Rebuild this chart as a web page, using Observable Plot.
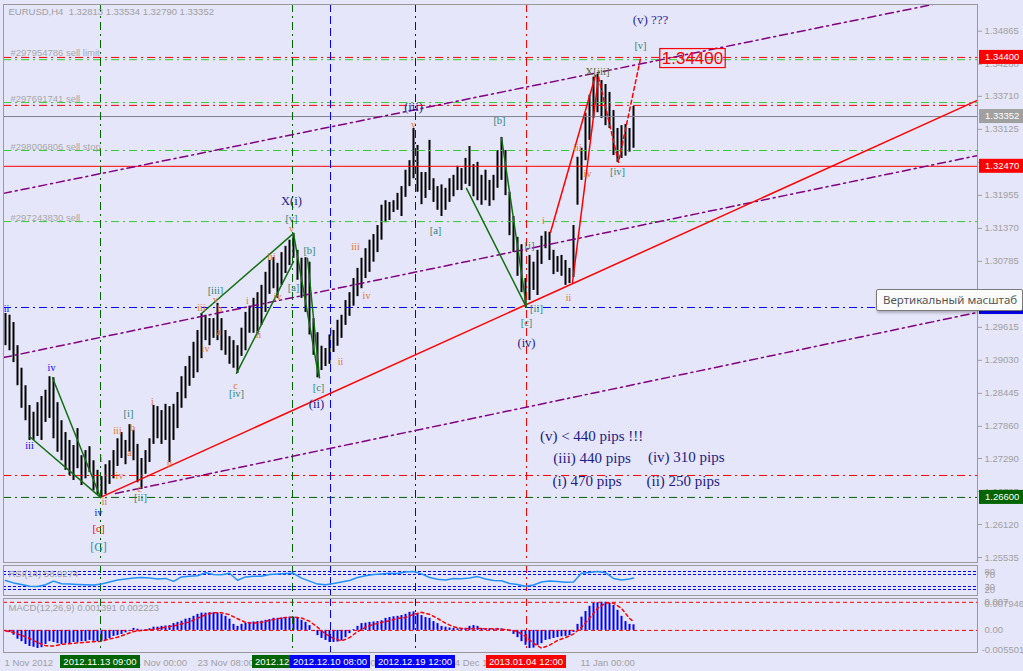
<!DOCTYPE html>
<html lang="ru">
<head>
<meta charset="utf-8">
<title>EURUSD,H4</title>
<script src="https://cdn.jsdelivr.net/npm/d3@7"></script>
<script src="https://cdn.jsdelivr.net/npm/@observablehq/plot@0.6"></script>
<style>
html, body { margin:0; padding:0; background:#e6e6fa; }
#chart { position:relative; width:1023px; height:671px; background:#e6e6fa; overflow:hidden; }
.pane { position:absolute; left:0; }
#tip { position:absolute; left:876px; top:289px; width:139px; height:20px; padding-left:6px; background:#fbfbfb;
  border:1px solid #7a7a7a; border-radius:2px; box-shadow:1px 2px 3px rgba(0,0,0,0.25);
  font:11.5px "Noto Sans", sans-serif; color:#555; line-height:20px; white-space:nowrap; overflow:hidden; }
</style>
</head>
<body>
<div id="chart">
  <div id="mainPane" class="pane" style="top:0"></div>
  <div id="rsiPane" class="pane" style="top:562px"></div>
  <div id="macdPane" class="pane" style="top:597px"></div>
  <div id="tip">Вертикальный масштаб</div>
</div>
<script>
// ---------------- DATA ----------------
const header = "EURUSD,H4\u00a0 1.32813 1.33534 1.32790 1.33352";
// bar index k (H4 bars, sampled), high / low prices
const barHigh = [
1.2986,1.2983,1.2970,1.2929,1.2889,1.2858,1.2823,1.2811,1.2828,1.2839,
1.2850,1.2874,1.2872,1.2828,1.2796,1.2775,1.2761,1.2752,1.2782,1.2734,
1.2743,1.2750,1.2725,1.2708,1.2697,1.2718,1.2725,1.2743,1.2764,1.2775,
1.2761,1.2789,1.2779,1.2754,1.2729,1.2743,1.2764,1.2823,1.2821,1.2814,
1.2825,1.2821,1.2825,1.2846,1.2874,1.2892,1.2910,1.2935,1.2956,1.2986,
1.2983,1.2977,1.2977,1.3004,1.2977,1.2956,1.2945,1.2938,1.2929,1.2960,
1.2988,1.2999,1.3013,1.3023,1.3036,1.3059,1.3080,1.3085,1.3075,1.3094,
1.3105,1.3116,1.3128,1.3098,1.3084,1.3085,1.3077,1.2977,1.2952,1.2928,
1.2924,1.2948,1.2956,1.2974,1.2983,1.3009,1.3023,1.3048,1.3066,1.3084,
1.3101,1.3116,1.3126,1.3142,1.3178,1.3186,1.3183,1.3186,1.3199,1.3211,
1.3240,1.3257,1.3314,1.3284,1.3236,1.3236,1.3293,1.3225,1.3211,1.3214,
1.3208,1.3225,1.3231,1.3247,1.3243,1.3261,1.3282,1.3250,1.3254,1.3231,
1.3240,1.3222,1.3231,1.3275,1.3298,1.3275,1.3201,1.3158,1.3121,1.3108,
1.3048,1.3089,1.3077,1.3098,1.3123,1.3131,1.3130,1.3098,1.3087,1.3089,
1.3080,1.3066,1.3142,1.3263,1.3279,1.3341,1.3373,1.3405,1.3410,1.3399,
1.3392,1.3378,1.3346,1.3314,1.3319,1.3321,1.3314,1.3353];
const barLow = [
1.2929,1.2920,1.2899,1.2858,1.2818,1.2796,1.2761,1.2761,1.2768,1.2761,
1.2793,1.2800,1.2764,1.2740,1.2725,1.2708,1.2699,1.2690,1.2711,1.2681,
1.2693,1.2704,1.2672,1.2665,1.2660,1.2665,1.2683,1.2693,1.2715,1.2729,
1.2718,1.2740,1.2725,1.2686,1.2674,1.2701,1.2722,1.2754,1.2764,1.2754,
1.2761,1.2722,1.2761,1.2782,1.2818,1.2835,1.2857,1.2871,1.2881,1.2906,
1.2938,1.2929,1.2942,1.2938,1.2920,1.2912,1.2896,1.2889,1.2880,1.2910,
1.2920,1.2951,1.2951,1.2948,1.2965,1.2988,1.3020,1.3030,1.3013,1.3036,
1.3057,1.3071,1.3084,1.3045,1.3013,1.2988,1.2948,1.2912,1.2872,1.2885,
1.2892,1.2896,1.2917,1.2928,1.2942,1.2965,1.2981,1.2999,1.3016,1.3030,
1.3048,1.3059,1.3077,1.3094,1.3116,1.3147,1.3151,1.3165,1.3169,1.3158,
1.3192,1.3211,1.3225,1.3201,1.3179,1.3190,1.3204,1.3183,1.3169,1.3158,
1.3169,1.3183,1.3193,1.3204,1.3204,1.3215,1.3211,1.3193,1.3186,1.3178,
1.3186,1.3176,1.3186,1.3208,1.3222,1.3195,1.3124,1.3094,1.3052,1.3023,
1.2997,1.3009,1.3027,1.3018,1.3073,1.3101,1.3080,1.3055,1.3059,1.3052,
1.3036,1.3039,1.3050,1.3178,1.3222,1.3257,1.3293,1.3332,1.3342,1.3332,
1.3319,1.3314,1.3266,1.3254,1.3261,1.3265,1.3272,1.3279];
// RSI(14), every second bar (last value = current bar)
const rsiVals = [50,42,37,31,30,36,48,39,38,37, 36,35,38,45,52,55,58,60,58,55,
57,47,62,64,66,76,70,69,74,51, 62,64,64,70,72,73,74,58,48,38,
36,40,45,50,60,66,70,72,74,73, 78,80,72,60,54,52,57,56,58,63,
55,50,49,40,37,31,35,45,48,47, 44,45,74,77,80,76,57,52,55,58.03];
// MACD(12,26,9) histogram, per bar
const macdVals = [
-0.0003,-0.0005,-0.0012,-0.0022,-0.0028,-0.0035,-0.0040,-0.0042,-0.0045,-0.0043,
-0.0035,-0.0028,-0.0030,-0.0033,-0.0035,-0.0033,-0.0033,-0.0030,-0.0030,-0.0028,
-0.0028,-0.0025,-0.0027,-0.0028,-0.0027,-0.0025,-0.0020,-0.0015,-0.0013,-0.0010,
-0.0006,-0.0003,0.0005,0.0003,0.0001,0.0002,0.0004,0.0008,0.0008,0.0010,
0.0011,0.0012,0.0017,0.0020,0.0023,0.0028,0.0030,0.0035,0.0040,0.0043,
0.0043,0.0044,0.0044,0.0043,0.0040,0.0035,0.0028,0.0015,0.0010,0.0015,
0.0018,0.0020,0.0021,0.0022,0.0023,0.0025,0.0027,0.0030,0.0030,0.0031,
0.0032,0.0033,0.0033,0.0030,0.0025,0.0020,0.0012,-0.0003,-0.0013,-0.0020,
-0.0025,-0.0030,-0.0030,-0.0029,-0.0026,-0.0018,-0.0008,0.0002,0.0010,0.0017,
0.0018,0.0020,0.0021,0.0022,0.0024,0.0030,0.0032,0.0034,0.0035,0.0037,
0.0040,0.0045,0.0046,0.0042,0.0037,0.0032,0.0030,0.0022,0.0017,0.0010,
0.0008,0.0006,0.0005,0.0004,0.0004,0.0005,0.0010,0.0012,0.0010,0.0005,
0.0003,0.0004,0.0003,0.0005,0.0004,0.0001,-0.0003,-0.0010,-0.0018,-0.0028,
-0.0037,-0.0045,-0.0044,-0.0038,-0.0033,-0.0025,-0.0023,-0.0020,-0.0018,-0.0016,
-0.0015,-0.0013,-0.0005,0.0015,0.0033,0.0047,0.0060,0.0067,0.0069,0.0070,
0.0070,0.0068,0.0062,0.0050,0.0035,0.0022,0.0015,0.0014];
// MACD signal line, every second bar (last value = current bar)
const signalVals = [
-0.0001,-0.0005,-0.0012,-0.0020,-0.0030,-0.0038,-0.0039,-0.0035,-0.0033,-0.0031,
-0.0030,-0.0028,-0.0027,-0.0021,-0.0017,-0.0010,-0.0003,0.0000,0.0001,0.0004,
0.0008,0.0011,0.0016,0.0021,0.0030,0.0039,0.0044,0.0044,0.0039,0.0029,
0.0020,0.0018,0.0020,0.0025,0.0029,0.0032,0.0033,0.0031,0.0023,0.0008,
-0.0009,-0.0020,-0.0026,-0.0018,-0.0003,0.0008,0.0015,0.0020,0.0024,0.0030,
0.0032,0.0040,0.0045,0.0040,0.0030,0.0018,0.0009,0.0005,0.0004,0.0005,
0.0004,0.0004,0.0003,0.0001,-0.0003,-0.0015,-0.0032,-0.0044,-0.0037,-0.0025,
-0.0018,-0.0009,0.0008,0.0030,0.0055,0.0068,0.0068,0.0055,0.0030,0.0022];

const priceTicks = [1.25535,1.26120,1.26705,1.27290,1.27860,1.28445,1.29030,1.29615,1.30200,
  1.30785,1.31370,1.31955,1.32540,1.33125,1.33710,1.34280,1.34865];
const rsiLevels = [80,70,30,20];
const macdLevels = [0.007, 0];
const macdMax = 0.007946, macdMin = -0.005501;
const rsiTitle = "RSI(14) 58.0274";
const macdTitle = "MACD(12,26,9) 0.001391 0.002223";

// horizontal objects
const hLinePrice = [1.3440,1.3436,1.3360,1.3355,1.33352,1.3275,1.3247,1.3149,1.29967,1.26989,1.2660];
const hLineColor = ["#ff0000","#32cd32","#32cd32","#ff0000","#80808f","#32cd32","#ff0000","#32cd32","#0000ff","#ff0000","#006400"];
const hLineStyle = ["dashdot","dashdot","dashdot","dashdot","solid","dashdot","solid","dashdot","dashdot","dashdot","dashdot"];
const orderLabels = [["#297954786 sell limit",1.3440],["#297691741 sell",1.3360],["#298006806 sell stop",1.3275],["#297243830 sell",1.3149]];
const priceBoxes = [[1.3440,"#ff0000"],[1.33352,"#a0a0a0"],[1.3247,"#ff0000"],[1.29967,"#0000ff"],[1.2660,"#006400"]];

// vertical objects (bar index)
const vLineK = [23.75, 71.75, 81.25, 102.5, 130.25];
const vLineColor = ["#006400","#006400","#0000ff","#0000ff","#ff0000"];
const vLineStyle = ["dashdot","dashdot","dash","dashdot","dashdot"];
const vLineLabel = ["2012.11.13 09:00","2012.12.05 04:00","2012.12.10 08:00","2012.12.19 12:00","2013.01.04 12:00"];
const timeLabels = [["1 Nov 2012",-0.25],["14 Nov 00:00",31.25],["23 Nov 08:00",48],["5 Dec 08:00",79.75],["24 Dec 16:00",111],["11 Jan 00:00",143.75]];

// trend lines [barIndex, price]
const trendRed = [[23.75,1.2660],[243,1.3364]];
const channelA = [[-0.5,1.3199],[243,1.3550]];
const channelB = [[-0.5,1.2908],[243,1.3266]];
const channelC = [[27.5,1.2667],[243,1.2988]];
const greenWaves = [
  [[6,1.2768],[23.75,1.2660]], [[11.75,1.2872],[23.75,1.2660]],
  [[49,1.2986],[72,1.3128]], [[57.75,1.2880],[72,1.3078]],
  [[72,1.3128],[78.25,1.2876]], [[75.5,1.3084],[78.5,1.2872]],
  [[124,1.3298],[130.25,1.2997]], [[115.25,1.3208],[130.25,1.2997]]];
const redWaves = [[[136.25,1.3130],[147.5,1.3408]], [[141.75,1.3041],[148.25,1.3405]]];
const redProjection = [[148.25,1.3405],[153.25,1.3254],[158.75,1.3438]];

// wave labels [text, barIndex, price]
const minorLabels = [["ii",24.75,1.2653],["i",24,1.2729],["iii",28,1.2779],["b",31.75,1.2784],["a",31,1.2740],
  ["iv",28.5,1.2699],["c",33.5,1.2676],["i",36.75,1.2830],["ii",41,1.2720],["v",71.5,1.3137],["iii",66.5,1.3087],
  ["v",52.5,1.3011],["iii",49,1.2997],["b",53.5,1.2995],["i",60.5,1.3009],["iv",68,1.3016],["a",53.25,1.2954],
  ["iv",50,1.2924],["ii",63.25,1.2949],["c",57.5,1.2858],["i",81.5,1.2956],["ii",83.75,1.2901],["iii",87.5,1.3105],
  ["iv",90.25,1.3018],["v",102,1.3321],["i",134.5,1.3151],["ii",140.75,1.3014],["iii",143,1.3280],["iv",145.5,1.3234]];
const minuteLabels = [["[i]",30.75,1.2809],["[ii]",33.75,1.2660],["[v]",71.5,1.3154],["[b]",76,1.3098],["[a]",72,1.3032],
  ["[iii]",52.5,1.3027],["[iv]",57.75,1.2844],["[c]",78.25,1.2855],["[a]",107.5,1.3133],["[b]",123.5,1.3328],
  ["[i]",131,1.3107],["[ii]",132.75,1.2995],["[c]",130.25,1.2970],["[iv]",153,1.3238],["[v]",158.75,1.3461]];
const subminLabels = [["ii",0.25,1.2995],["iv",11.5,1.2889],["iii",6,1.2752],["iv",23.25,1.2633]];
const minorC = [["[c]",23.25,1.2605]];
const gLabel = [["[G]",23.25,1.2571]];
const circleLabels = [["X(i)",71.5,1.3185],["(ii)",77.75,1.2825],["(iii)",102,1.3353],["(iv)",130.25,1.2933]];
const questionLabel = [["(v) ???",161.25,1.3507]];
const xLabel = [["X[iii]",148,1.3415]];
const notes = [["(v) < 440 pips !!!",133.6,1.2768],["(iii) 440 pips",136.95,1.2729],["(iv) 310 pips",160.6,1.2731],
  ["(i) 470 pips",136.75,1.2688],["(ii) 250 pips",160.25,1.2688]];
const target = [["1.34400",171.75,1.3438]];

// ---------------- CHART ----------------
const K_DOMAIN = [-0.5, 243];
const DASHES = {dashdot:"8,4,2,4", dash:"8,4", solid:undefined};
const SANS = '"Liberation Sans", Arial, sans-serif';
const SERIF = '"Liberation Serif", "Times New Roman", serif';
const GRAY = "#a0a0a0";
const baseStyle = {background:"transparent", fontFamily:SANS, fontSize:"9.5px", overflow:"visible"};

const bars = barHigh.map((h, i) => ({k:i, high:h, low:barLow[i]}));
const macdData = macdVals.map((v, i) => ({k:i, v}));
const signalData = signalVals.map((v, j) => ({k:Math.min(2*j, macdVals.length-1), v}));
const rsiData = rsiVals.map((v, j) => ({k:Math.min(2*j, barHigh.length-1), v}));

const vRules = () => vLineK.map((k, i) => Plot.ruleX([k], {stroke:vLineColor[i], strokeDasharray:DASHES[vLineStyle[i]]}));
const seg = (pts, o) => Plot.line(pts, {x:d => d[0], y:d => d[1], clip:true, ...o});
const waveText = (arr, fill, size) => Plot.text(arr, {x:d => d[1], y:d => d[2], text:d => d[0], fill, fontSize:size,
  fontFamily:SERIF, textAnchor:"middle", lineAnchor:"middle"});

const main = Plot.plot({
  width:1023, height:563, marginLeft:3, marginRight:46, marginTop:4, marginBottom:1,
  x:{domain:K_DOMAIN, axis:null},
  y:{domain:[1.254464, 1.353383], axis:null},
  style:baseStyle,
  marks:[
    Plot.ruleX(bars, {x:"k", y1:"low", y2:"high", stroke:"#000", strokeWidth:2}),
    ...hLinePrice.map((p, i) => Plot.ruleY([p], {stroke:hLineColor[i], strokeDasharray:DASHES[hLineStyle[i]]})),
    ...vRules(),
    seg(channelA, {stroke:"#800080", strokeDasharray:DASHES.dashdot}),
    seg(channelB, {stroke:"#800080", strokeDasharray:DASHES.dashdot}),
    seg(channelC, {stroke:"#800080", strokeDasharray:DASHES.dashdot}),
    seg(trendRed, {stroke:"#ff0000"}),
    ...greenWaves.map(s => seg(s, {stroke:"#107010"})),
    ...redWaves.map(s => seg(s, {stroke:"#ff0000"})),
    seg(redProjection, {stroke:"#ff0000", strokeDasharray:"4,3"}),
    waveText(minorLabels, "#e0752d", 10),
    waveText(minuteLabels, "#2f8577", 10.5),
    waveText(subminLabels, "#0000ff", 10),
    waveText(minorC, "#ff0000", 11),
    waveText(gLabel, "#2a93a8", 12),
    waveText(circleLabels, "#1a1a90", 12.5),
    waveText(questionLabel, "#2a2a9a", 13),
    waveText(xLabel, "#5f6f1f", 11),
    Plot.text(notes, {x:d => d[1], y:d => d[2], text:d => d[0], fill:"#1b1b86", fontSize:15, fontFamily:SERIF,
      textAnchor:"start", lineAnchor:"middle"}),
    Plot.text(target, {x:d => d[1], y:d => d[2], text:d => d[0], fill:"#ff0000", fontSize:17,
      fontFamily:'"Liberation Sans Narrow", "Liberation Sans", sans-serif', textAnchor:"middle", lineAnchor:"middle"}),
    Plot.text(orderLabels, {x:1.25, y:d => d[1], text:d => d[0], fill:"#a8a8a8", textAnchor:"start", lineAnchor:"bottom", dy:-1}),
    Plot.text([header], {text:d => d, frameAnchor:"top-left", dx:5, dy:7, textAnchor:"start", lineAnchor:"middle", fill:GRAY}),
    Plot.frame({stroke:"#9a9a9a"}),
    Plot.axisY({anchor:"right", ticks:priceTicks, tickFormat:d3.format(".5f"), tickSize:4, tickPadding:3, color:GRAY, label:null})
  ]
});
document.getElementById("mainPane").append(main);

// price labels on the right scale, and the frame of the target label
{
  const X = main.scale("x"), Y = main.scale("y");
  const s = d3.select(main);
  const x0 = X.apply(K_DOMAIN[1]) + 2;
  priceBoxes.forEach(([p, bg]) => {
    const cy = Y.apply(p);
    s.append("rect").attr("x", x0).attr("y", cy - 7).attr("width", 46).attr("height", 14).attr("fill", bg);
    s.append("text").attr("x", x0 + 6).attr("y", cy).attr("dy", "0.35em").attr("fill", "#fff")
      .attr("text-anchor", "start").attr("font-size", "9.5px").text(d3.format(".5f")(p));
  });
  const t = Array.from(main.querySelectorAll("text")).find(e => e.textContent === target[0][0]);
  if (t) {
    const r = t.getBoundingClientRect(), sr = main.getBoundingClientRect();
    const cx = (r.left + r.right) / 2 - sr.left, cy = Y.apply(target[0][2]);
    s.append("rect").attr("x", cx - r.width / 2 - 2).attr("y", cy - 9.5).attr("width", r.width + 4).attr("height", 19)
      .attr("fill", "none").attr("stroke", "#ff0000").attr("stroke-width", 1.2);
  }
}

const rsiPlot = Plot.plot({
  width:1023, height:35, marginLeft:3, marginRight:46, marginTop:3, marginBottom:2,
  x:{domain:K_DOMAIN, axis:null}, y:{domain:[0, 100], axis:null},
  style:baseStyle,
  marks:[
    Plot.ruleY(rsiLevels, {stroke:"#0000ff", strokeDasharray:"3,2"}),
    ...vRules(),
    Plot.line(rsiData, {x:"k", y:"v", stroke:"#1e90ff"}),
    Plot.text([rsiTitle], {text:d => d, frameAnchor:"top-left", dx:5, dy:8, textAnchor:"start", lineAnchor:"middle", fill:GRAY}),
    Plot.frame({stroke:"#9a9a9a"}),
    Plot.axisY({anchor:"right", ticks:rsiLevels, tickSize:0, tickPadding:7, tickFormat:d => String(d), color:GRAY, label:null})
  ]
});
document.getElementById("rsiPane").append(rsiPlot);

const macdPlot = Plot.plot({
  width:1023, height:74, marginLeft:3, marginRight:46, marginTop:1, marginBottom:19,
  x:{domain:K_DOMAIN, axis:null}, y:{domain:[macdMin, macdMax], axis:null},
  style:baseStyle,
  marks:[
    Plot.ruleX(macdData, {x:"k", y1:0, y2:"v", stroke:"#0000ff", strokeWidth:2}),
    Plot.ruleY(macdLevels, {stroke:"#ff0000", strokeDasharray:"4,3"}),
    Plot.line(signalData, {x:"k", y:"v", stroke:"#ff0000", strokeDasharray:"3,3"}),
    ...vRules(),
    Plot.text([macdTitle], {text:d => d, frameAnchor:"top-left", dx:5, dy:9, textAnchor:"start", lineAnchor:"middle", fill:GRAY}),
    Plot.text(timeLabels, {x:d => d[1], text:d => d[0], frameAnchor:"bottom", dy:10, textAnchor:"start", lineAnchor:"middle", fill:GRAY}),
    Plot.frame({stroke:"#9a9a9a"}),
    Plot.axisY({anchor:"right", ticks:macdLevels, tickSize:0, tickPadding:7, tickFormat:d => d === 0 ? "0.00" : String(d), color:GRAY, label:null}),
    Plot.text([String(macdMax)], {text:d => d, frameAnchor:"top-right", dx:7, dy:5, textAnchor:"start", lineAnchor:"middle", fill:GRAY}),
    Plot.text([String(macdMin)], {text:d => d, frameAnchor:"bottom-right", dx:4, dy:-3, textAnchor:"start", lineAnchor:"middle", fill:GRAY})
  ]
});
document.getElementById("macdPane").append(macdPlot);

// time labels of vertical lines
{
  const X = macdPlot.scale("x"), Y = macdPlot.scale("y");
  const s = d3.select(macdPlot);
  const yb = Y.apply(macdMin) + 3;
  vLineK.forEach((k, i) => {
    const cx = X.apply(k);
    s.append("rect").attr("x", cx - 40).attr("y", yb).attr("width", 80).attr("height", 13).attr("fill", vLineColor[i]);
    s.append("text").attr("x", cx).attr("y", yb + 6.5).attr("dy", "0.35em").attr("text-anchor", "middle")
      .attr("fill", "#fff").attr("font-size", "9.5px").text(vLineLabel[i]);
  });
}
</script>
</body>
</html>
